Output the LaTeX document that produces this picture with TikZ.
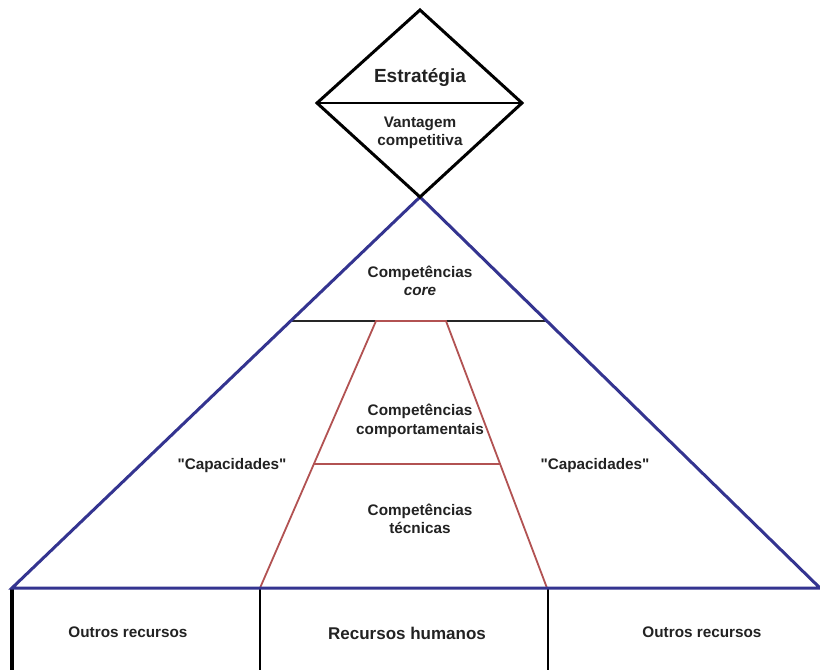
\documentclass[tikz,border=0pt]{standalone}
\usepackage{fontspec}
\setmainfont{Liberation Sans}
% a family without the TeX ligature mapping, so that " stays a straight quote
\newfontfamily\plainsans{Liberation Sans}
\definecolor{pyrblue}{HTML}{343490}
\definecolor{trapred}{HTML}{B25252}
\definecolor{txt}{HTML}{222222}
\begin{document}
\begin{tikzpicture}[x=1pt,y=-1pt,
  lbl/.style={text=txt,font=\plainsans\bfseries\fontsize{15.3}{18.5}\selectfont,align=center,inner sep=0pt},
  big/.style={lbl,font=\plainsans\bfseries\fontsize{17}{20}\selectfont},
  huge/.style={lbl,font=\plainsans\bfseries\fontsize{19}{22}\selectfont},
  blueline/.style={pyrblue,line width=3pt,line join=miter},
  redline/.style={trapred,line width=1.8pt},
  thinblack/.style={black,line width=1.3pt}]
\useasboundingbox (0,0) rectangle (820,670);
\fill[white] (0,0) rectangle (820,670);

% diamond: strategy
\coordinate (dT) at (420,10);
\coordinate (dL) at (317,103);
\coordinate (dR) at (522,103);
\coordinate (dB) at (420,197);
\draw[thinblack] (dL) -- (dR);

% pyramid corners
\coordinate (apex) at (420,197);
\coordinate (bL) at (12,588);
\coordinate (bR) at (820,588);

% core band line
\coordinate (cL) at (291,321);
\coordinate (cR) at (548,321);
\draw[black!85,line width=1.3pt] (cL) -- (cR);

% trapezoid of human competencies
\coordinate (tTL) at (376,321);
\coordinate (tTR) at (446,321);
\coordinate (tML) at (314,464);
\coordinate (tMR) at (501,464);
\coordinate (tBL) at (260,588);
\coordinate (tBR) at (547,588);
\draw[redline] (tBL) -- (tTL) -- (tTR) -- (tBR);
\draw[redline] (tML) -- (tMR);

% resource columns
\coordinate (c1) at (260,588);
\coordinate (c1b) at (260,670);
\coordinate (c2) at (548,588);
\coordinate (c2b) at (548,670);
\coordinate (c0) at (12,588);
\coordinate (c0b) at (12,670);
\draw[thinblack] (c1) -- (c1b);
\draw[thinblack] (c2) -- (c2b);
\draw[black,line width=4pt] (c0) -- (c0b);

\draw[blueline] (bR) -- (apex) -- (bL) -- cycle;
\draw[black,line width=3pt,line join=miter] (dT) -- (dR) -- (dB) -- (dL) -- cycle;

% labels
\node[huge] (estr) at (420,78) {Estratégia};
\node[lbl] (vant) at (420,133) {Vantagem\\competitiva};
\node[lbl] (core) at (420,281) {Competências\\\textit{core}};
\node[lbl] (comp) at (420,421) {Competências\\comportamentais};
\node[lbl] (tecn) at (420,519) {Competências\\técnicas};
\node[lbl] (capL) at (232,466) {"Capacidades"};
\node[lbl] (capR) at (595,466) {"Capacidades"};
\node[lbl] (outL) at (128,632) {Outros recursos};
\node[big] (rh) at (407,633) {Recursos humanos};
\node[lbl] (outR) at (702,632) {Outros recursos};
\end{tikzpicture}
\end{document}
